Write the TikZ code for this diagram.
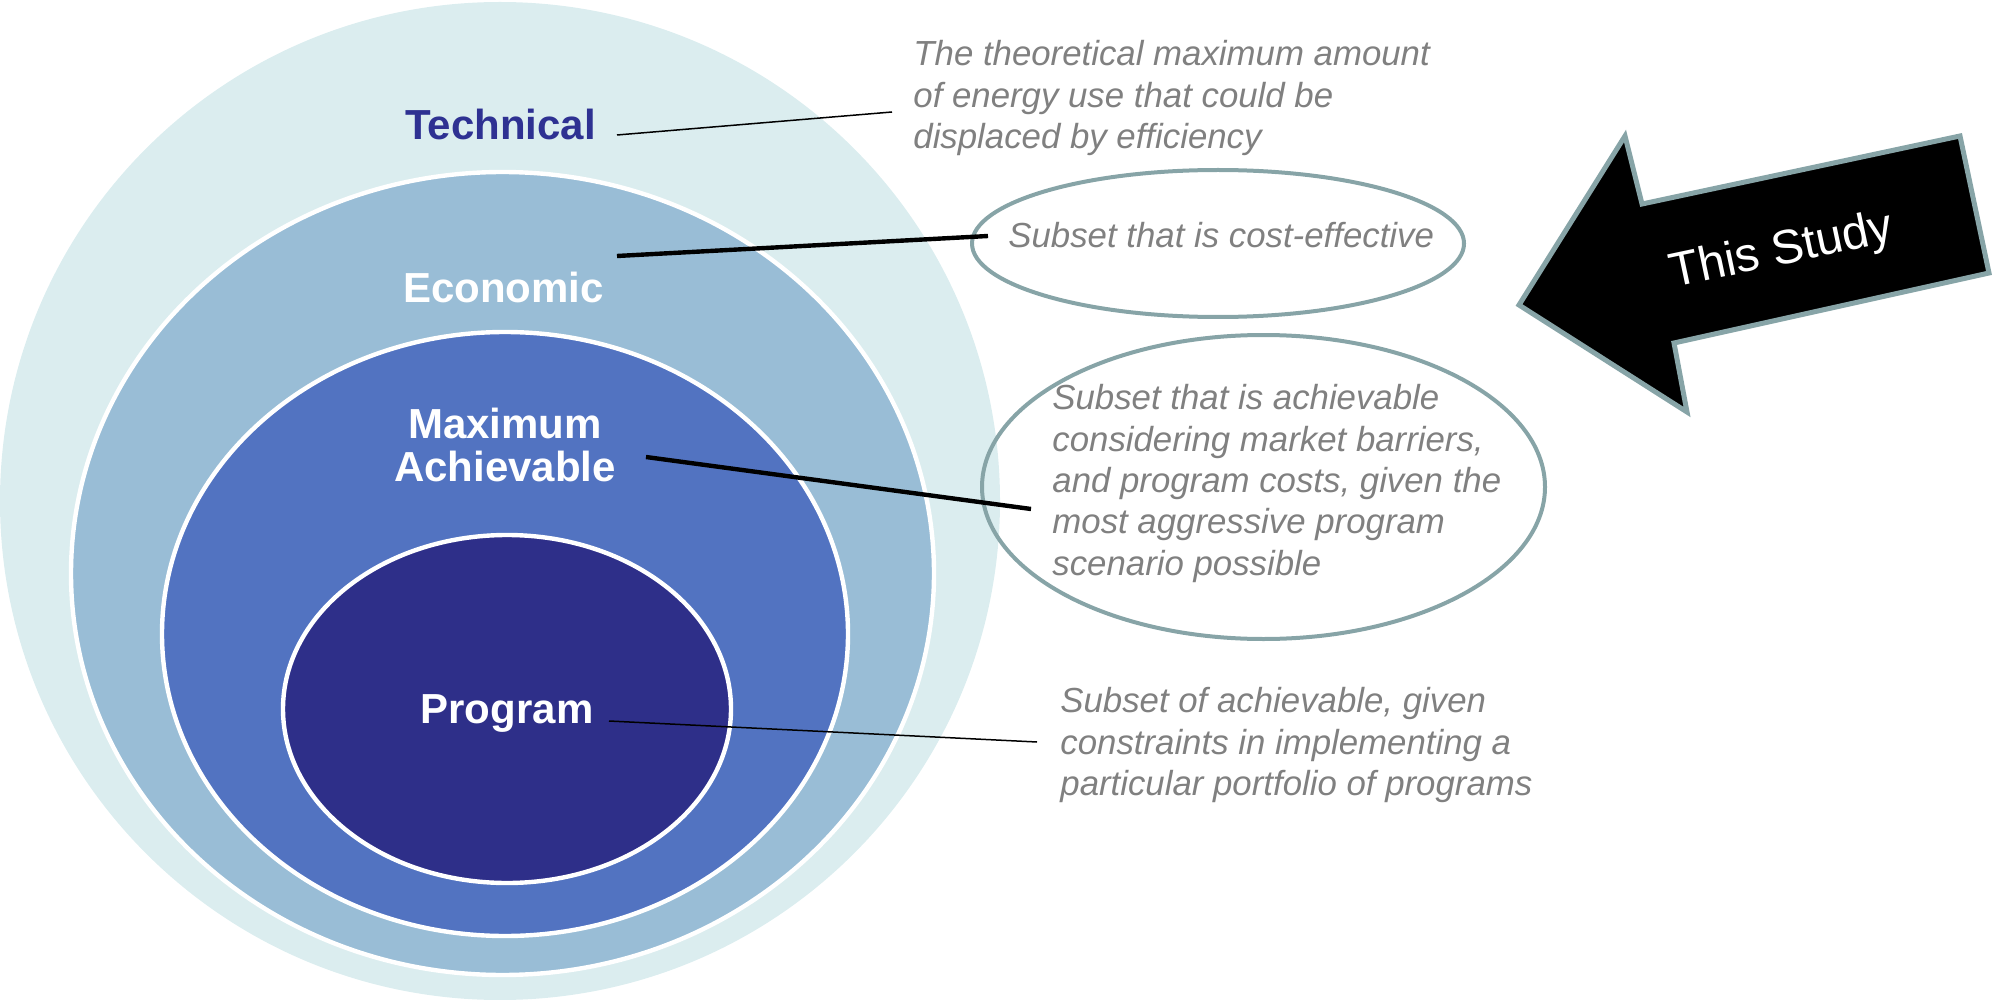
\documentclass[tikz,border=0pt]{standalone}
\usepackage{fontspec}
\setmainfont{Liberation Sans}
\usetikzlibrary{shapes.geometric}

\definecolor{techfill}{RGB}{219,237,239}
\definecolor{econfill}{RGB}{153,189,214}
\definecolor{maxfill}{RGB}{82,115,193}
\definecolor{progfill}{RGB}{46,47,137}
\definecolor{techtext}{RGB}{46,49,146}
\definecolor{desctext}{RGB}{128,128,128}
\definecolor{calloutline}{RGB}{135,164,167}

\begin{document}
\begin{tikzpicture}[x=0.5pt,y=-0.5pt,
  ring/.style={ellipse, inner sep=0pt, outer sep=0pt, draw=white, line width=2.2pt},
  callout/.style={ellipse, inner sep=0pt, outer sep=0pt, draw=calloutline, line width=2pt},
  layer/.style={font=\fontsize{21}{21.5}\selectfont\bfseries, inner sep=0pt, align=center},
  desc/.style={font=\fontsize{17.4}{20.7}\selectfont\itshape, text=desctext, inner sep=0pt,
               align=left, anchor=north west},
  thinlead/.style={draw=black, line width=0.75pt},
  thicklead/.style={draw=black, line width=2.2pt},
  studyarrow/.style={fill=black, draw=calloutline, line width=2.5pt, line join=miter}]

\useasboundingbox (0,0) rectangle (1997,1000);

% nested potential levels
\node[ring, fill=techfill, draw=none, minimum width=500pt, minimum height=499pt] (technical) at (500,501) {};
\node[ring, fill=econfill, minimum width=431.5pt, minimum height=401.5pt] (economic) at (502.5,573.5) {};
\node[ring, fill=maxfill, minimum width=343pt, minimum height=302pt] (maximum) at (505,634) {};
\node[ring, fill=progfill, minimum width=224pt, minimum height=174pt] (program) at (507,709) {};

% outlined callouts
\node[callout, minimum width=246pt, minimum height=73.5pt] (costbox) at (1218,243.5) {};
\node[callout, minimum width=281.5pt, minimum height=152pt] (achbox) at (1263.5,487) {};

% leader lines
\coordinate (techA) at (617,135);
\coordinate (techB) at (892,112);
\coordinate (econA) at (617,256);
\coordinate (econB) at (988,236);
\coordinate (maxA) at (646,457);
\coordinate (maxB) at (1031,509);
\coordinate (progA) at (609,721);
\coordinate (progB) at (1037,742);
\draw[thinlead] (techA) -- (techB);
\draw[thicklead] (econA) -- (econB);
\draw[thicklead] (maxA) -- (maxB);
\draw[thinlead] (progA) -- (progB);

% level names
\node[layer, text=techtext, anchor=base] (techlabel) at (500.5,140) {Technical};
\node[layer, text=white, anchor=base] (econlabel) at (503.5,303) {Economic};
\node[layer, text=white, anchor=north] (maxlabel) at (505,408) {Maximum\\Achievable};
\node[layer, text=white, anchor=base] (proglabel) at (507,723) {Program};

% descriptions
\node[desc] (techdesc) at (913,40) {The theoretical maximum amount\\of energy use that could be\\displaced by efficiency};
\node[desc] (costdesc) at (1008,222) {Subset that is cost-effective};
\node[desc] (achdesc) at (1052,384) {Subset that is achievable\\considering market barriers,\\and program costs, given the\\most aggressive program\\scenario possible};
\node[desc] (progdesc) at (1060,687) {Subset of achievable, given\\constraints in implementing a\\particular portfolio of programs};

% block arrow
\coordinate (tip) at (1519,305);
\coordinate (headtop) at (1625,136);
\coordinate (notchtop) at (1642,204);
\coordinate (tailtop) at (1960,136);
\coordinate (tailbot) at (1989,273);
\coordinate (notchbot) at (1674,343);
\coordinate (headbot) at (1687,412);
\draw[studyarrow] (tip) -- (headtop) -- (notchtop) -- (tailtop) -- (tailbot) -- (notchbot) -- (headbot) -- cycle;
\node[font=\fontsize{24}{28}\selectfont, text=white, rotate=12, inner sep=0pt] (study) at (1782,252) {This Study};

\end{tikzpicture}
\end{document}
